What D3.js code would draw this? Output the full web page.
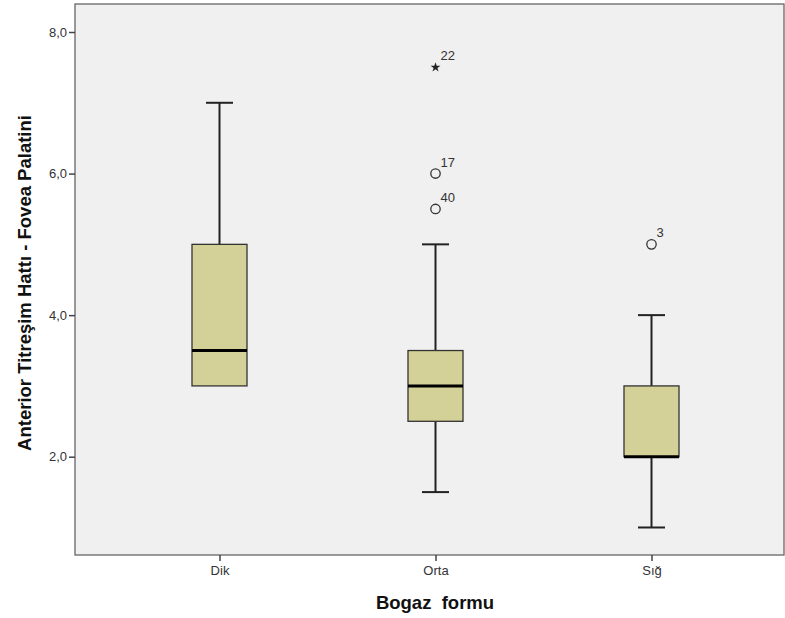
<!DOCTYPE html>
<html>
<head>
<meta charset="utf-8">
<script src="https://cdn.jsdelivr.net/npm/d3@7"></script>
<style>
  body { margin: 0; background: #fff; }
  text { font-family: "Liberation Sans", Arial, sans-serif; }
</style>
</head>
<body>
<div id="chart"></div>
<script>
// data
var groups = ["Dik", "Orta", "Sığ"];
var whiskerLow = [3.0, 1.5, 1.0];
var q1 = [3.0, 2.5, 2.0];
var medians = [3.5, 3.0, 2.0];
var q3 = [5.0, 3.5, 3.0];
var whiskerHigh = [7.0, 5.0, 4.0];

// outliers: group, value, case label, kind
var outGroup = ["Orta", "Orta", "Orta", "Sığ"];
var outValue = [7.5, 6.0, 5.5, 5.0];
var outLabel = ["22", "17", "40", "3"];
var outKind = ["extreme", "mild", "mild", "mild"];

var yTicks = [2, 4, 6, 8];

var svgWidth = 785;
var svgHeight = 618;

// plot frame
var frame = { left: 75, top: 4, right: 784, bottom: 555 };

var svg = d3.select("#chart")
    .append("svg")
    .attr("width", svgWidth)
    .attr("height", svgHeight);

svg.append("rect")
    .attr("x", frame.left)
    .attr("y", frame.top)
    .attr("width", frame.right - frame.left)
    .attr("height", frame.bottom - frame.top)
    .attr("fill", "#f0f0f0")
    .attr("stroke", "#666")
    .attr("stroke-width", 1.3);

// scales
var x = d3.scalePoint()
    .domain(groups)
    .range([219.5, 651.5]);

var y = d3.scaleLinear()
    .domain([2, 8])
    .range([456.7, 32]);

// axes
var yAxis = d3.axisLeft(y)
    .tickValues(yTicks)
    .tickSize(6)
    .tickFormat(d => d3.format(".1f")(d).replace(".", ","));

var gy = svg.append("g")
    .attr("transform", `translate(${frame.left}, 0)`)
    .call(yAxis);
gy.select(".domain").remove();
gy.selectAll(".tick line").attr("stroke", "#444").attr("stroke-width", 1.5);
gy.selectAll(".tick text")
    .attr("fill", "#333")
    .attr("font-size", 13)
    .attr("x", -8)
    .style("font-family", "'Liberation Sans', Arial, sans-serif");

var xAxis = d3.axisBottom(x).tickSize(6);
var gx = svg.append("g")
    .attr("transform", `translate(0, ${frame.bottom})`)
    .call(xAxis);
gx.select(".domain").remove();
gx.selectAll(".tick line").attr("stroke", "#444").attr("stroke-width", 1.5);
gx.selectAll(".tick text")
    .attr("fill", "#333")
    .attr("font-size", 13)
    .attr("y", 11)
    .style("font-family", "'Liberation Sans', Arial, sans-serif");

// boxes
var boxWidth = 55;
var capWidth = 27;

var boxes = svg.selectAll(".box")
    .data(groups)
    .enter()
    .append("g")
    .attr("class", "box");

// whiskers
boxes.append("line")
    .attr("x1", d => x(d))
    .attr("x2", d => x(d))
    .attr("y1", (d, i) => y(whiskerHigh[i]))
    .attr("y2", (d, i) => y(q3[i]))
    .attr("stroke", "#222")
    .attr("stroke-width", 2);

boxes.append("line")
    .attr("x1", d => x(d))
    .attr("x2", d => x(d))
    .attr("y1", (d, i) => y(q1[i]))
    .attr("y2", (d, i) => y(whiskerLow[i]))
    .attr("stroke", "#222")
    .attr("stroke-width", 2);

// caps
boxes.append("line")
    .attr("x1", d => x(d) - capWidth / 2)
    .attr("x2", d => x(d) + capWidth / 2)
    .attr("y1", (d, i) => y(whiskerHigh[i]))
    .attr("y2", (d, i) => y(whiskerHigh[i]))
    .attr("stroke", "#222")
    .attr("stroke-width", 2);

boxes.filter((d, i) => whiskerLow[i] < q1[i])
    .append("line")
    .attr("x1", d => x(d) - capWidth / 2)
    .attr("x2", d => x(d) + capWidth / 2)
    .attr("y1", d => y(whiskerLow[groups.indexOf(d)]))
    .attr("y2", d => y(whiskerLow[groups.indexOf(d)]))
    .attr("stroke", "#222")
    .attr("stroke-width", 2);

boxes.append("rect")
    .attr("x", d => x(d) - boxWidth / 2)
    .attr("y", (d, i) => y(q3[i]))
    .attr("width", boxWidth)
    .attr("height", (d, i) => y(q1[i]) - y(q3[i]))
    .attr("fill", "#d3d098")
    .attr("stroke", "#333")
    .attr("stroke-width", 1.3);

// medians
boxes.append("line")
    .attr("x1", d => x(d) - boxWidth / 2)
    .attr("x2", d => x(d) + boxWidth / 2)
    .attr("y1", (d, i) => y(medians[i]))
    .attr("y2", (d, i) => y(medians[i]))
    .attr("stroke", "#000")
    .attr("stroke-width", 3);

// outliers
var outliers = outValue.map((v, i) => ({ g: outGroup[i], v: v, label: outLabel[i], kind: outKind[i] }));

svg.selectAll(".mild")
    .data(outliers.filter(d => d.kind === "mild"))
    .enter()
    .append("circle")
    .attr("class", "mild")
    .attr("cx", d => x(d.g))
    .attr("cy", d => y(d.v))
    .attr("r", 4.7)
    .attr("fill", "none")
    .attr("stroke", "#333")
    .attr("stroke-width", 1.3);

svg.selectAll(".extreme")
    .data(outliers.filter(d => d.kind === "extreme"))
    .enter()
    .append("path")
    .attr("class", "extreme")
    .attr("d", d3.symbol(d3.symbolStar, 30))
    .attr("transform", d => `translate(${x(d.g)}, ${y(d.v)})`)
    .attr("fill", "#222");

svg.selectAll(".outlabel")
    .data(outliers)
    .enter()
    .append("text")
    .attr("class", "outlabel")
    .attr("x", d => x(d.g) + 5)
    .attr("y", d => y(d.v) - 7)
    .attr("font-size", 13)
    .attr("fill", "#333")
    .text(d => d.label);

// axis titles
svg.append("text")
    .attr("x", 435)
    .attr("y", 609)
    .attr("text-anchor", "middle")
    .attr("font-size", 18.5)
    .attr("font-weight", "bold")
    .attr("fill", "#111")
    .style("white-space", "pre")
    .text("Bogaz  formu");

svg.append("text")
    .attr("transform", "rotate(-90)")
    .attr("x", -283)
    .attr("y", 31)
    .attr("text-anchor", "middle")
    .attr("font-size", 18.5)
    .attr("font-weight", "bold")
    .attr("fill", "#111")
    .text("Anterior Titreşim Hattı - Fovea Palatini");
</script>
</body>
</html>
